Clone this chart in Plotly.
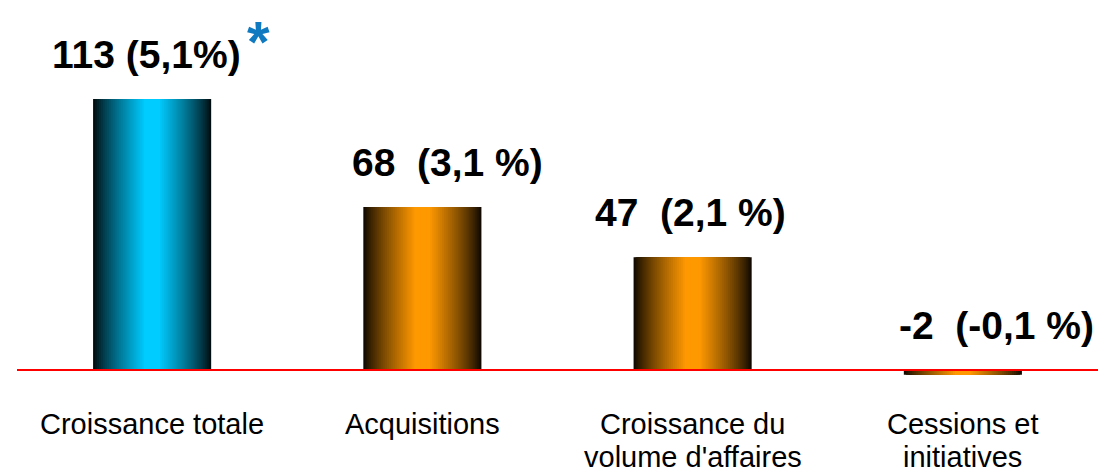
import plotly.graph_objects as go

# chart data
categories = ["Croissance totale", "Acquisitions",
              "Croissance du<br>volume d'affaires", "Cessions et<br>initiatives"]
values = [113, 68, 47, -2]
value_labels = ["113 (5,1%)", "68\u00a0 (3,1 %)", "47\u00a0 (2,1 %)", "-2\u00a0 (-0,1 %)"]
bar_colors = ["#00CCFF", "#FF9900", "#FF9900", "#FF9900"]

# style
BAR_W = 0.437
N_LAYERS = 30
label_xshift = [-6, 25, -2, 34]
FONT = "Liberation Sans, Arial, sans-serif"
CAT_LINE_GAP = 33  # tighter than plotly's own 1.3em line spacing


def shade(hex_color, t):
    """Blend from black (t=0) to the given colour (t=1)."""
    r, g, b = (int(hex_color[i:i + 2], 16) for i in (1, 3, 5))
    return f"rgb({int(r * t)},{int(g * t)},{int(b * t)})"


fig = go.Figure()

# fake horizontal gradient: overlaid bars getting narrower and brighter
for k in range(N_LAYERS):
    frac = 1 - k / N_LAYERS
    t = min(1.0, (k + 1) / (0.9 * N_LAYERS)) ** 0.8
    fig.add_trace(go.Bar(
        x=categories,
        y=values,
        width=BAR_W * frac,
        marker_color=[shade(c, t) for c in bar_colors],
        marker_line_width=0,
        hoverinfo="skip",
        showlegend=False,
    ))

for i, cat in enumerate(categories):
    # value label above the bar
    fig.add_annotation(
        x=cat, y=max(values[i], 0),
        text=f"<b>{value_labels[i]}</b>",
        showarrow=False, yanchor="bottom",
        xshift=label_xshift[i], yshift=21,
        font=dict(size=39, color="black", family=FONT),
    )
    # category name under the axis, one annotation per line
    for j, line in enumerate(cat.split("<br>")):
        fig.add_annotation(
            x=cat, xref="x", y=0, yref="paper",
            text=line, showarrow=False, yanchor="middle",
            yshift=-24 - j * CAT_LINE_GAP,
            font=dict(size=29, color="black", family=FONT),
        )

# blue asterisk next to the first label
fig.add_annotation(
    x=categories[0], y=values[0],
    text="<b>*</b>", showarrow=False, yanchor="middle",
    xshift=106, yshift=58,
    font=dict(size=58, color="#0F7AC0", family=FONT),
)

# red baseline
fig.add_shape(type="line", xref="paper", x0=0, x1=1, yref="y", y0=0, y1=0,
              line=dict(color="#FF0000", width=2), layer="above")

# page body has an 8px margin, so the figure is 8px smaller than the window
fig.update_layout(
    width=1104, height=464,
    margin=dict(l=9, r=14, t=0, b=72),
    barmode="overlay",
    plot_bgcolor="white", paper_bgcolor="white",
    font=dict(family=FONT, color="black"),
    xaxis=dict(range=[-0.5, 3.5], showgrid=False, showline=False, ticks="",
               showticklabels=False, automargin=False),
    yaxis=dict(range=[-12.51, 150.96], visible=False, showgrid=False,
               zeroline=False, automargin=False),
)

fig.write_html("out.html")
